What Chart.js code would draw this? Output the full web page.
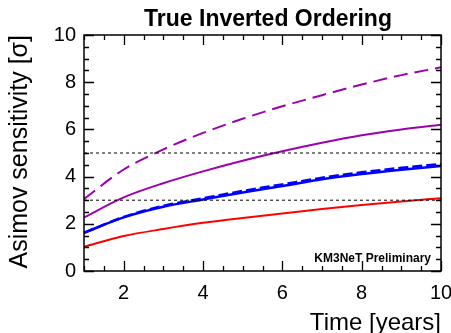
<!DOCTYPE html>
<html lang="en">
<head>
    <meta charset="UTF-8">
    <title>True Inverted Ordering</title>
    <script src="https://cdn.jsdelivr.net/npm/chart.js"></script>
    <style>
        html, body { margin: 0; padding: 0; background: #fff; }
        #wrap { width: 451px; height: 333px; }
    </style>
</head>
<body>
    <div id="wrap"><canvas id="sens"></canvas></div>

    <script>
        // years of data taking
        const years = [1, 2, 3, 4, 5, 6, 7, 8, 9, 10];

        // sensitivity curves (sigma)
        const purpleDashed = [3.05, 4.30, 5.15, 5.85, 6.45, 6.98, 7.45, 7.90, 8.30, 8.63];
        const purpleSolid  = [2.27, 3.12, 3.72, 4.22, 4.67, 5.07, 5.43, 5.75, 6.00, 6.20];
        const blueDashed   = [1.62, 2.29, 2.76, 3.08, 3.39, 3.67, 3.95, 4.18, 4.37, 4.53];
        const blueSolid    = [1.62, 2.27, 2.72, 3.03, 3.33, 3.60, 3.89, 4.11, 4.29, 4.45];
        const redSolid     = [1.03, 1.48, 1.78, 2.04, 2.25, 2.44, 2.63, 2.80, 2.95, 3.08];

        // 3 and 5 sigma reference levels
        const sigmaLevels = [3, 5];

        const xTicks = [2, 4, 6, 8, 10];
        const yTicks = [0, 2, 4, 6, 8, 10];

        const FONT = 'Liberation Sans, Arial, Helvetica, sans-serif';
        const PURPLE = '#9c00b0';

        function pts(vals) {
            return years.map((x, i) => ({ x: x, y: vals[i] }));
        }

        function curve(vals, color, dash, width) {
            return {
                data: pts(vals),
                borderColor: color,
                borderWidth: width,
                borderDash: dash,
                pointRadius: 0,
                fill: false,
                cubicInterpolationMode: 'monotone'
            };
        }

        const levelSets = sigmaLevels.map(lv => ({
            data: [{ x: years[0], y: lv }, { x: years[years.length - 1], y: lv }],
            borderColor: '#000',
            borderWidth: 1,
            borderDash: [3, 3],
            pointRadius: 0,
            fill: false
        }));

        // ROOT-like frame, inward major/minor ticks, titles
        const decor = {
            id: 'decor',
            afterDraw(chart) {
                const ctx = chart.ctx;
                const a = chart.chartArea;
                const xs = chart.scales.x, ys = chart.scales.y;
                ctx.save();
                ctx.strokeStyle = '#000';
                ctx.setLineDash([]);
                ctx.lineWidth = 1.5;
                ctx.strokeRect(a.left, a.top, a.right - a.left, a.bottom - a.top);

                ctx.lineWidth = 1.3;
                ctx.beginPath();
                for (let k = 2; k <= 20; k++) {
                    const v = k / 2;
                    const px = Math.round(xs.getPixelForValue(v)) + 0.5;
                    const len = (k % 4 === 0) ? 10 : 5;
                    ctx.moveTo(px, a.bottom); ctx.lineTo(px, a.bottom - len);
                    ctx.moveTo(px, a.top); ctx.lineTo(px, a.top + len);
                }
                for (let k = 0; k <= 20; k++) {
                    const v = k / 2;
                    const py = Math.round(ys.getPixelForValue(v)) + 0.5;
                    const len = (k % 4 === 0) ? 10 : 5;
                    ctx.moveTo(a.left, py); ctx.lineTo(a.left + len, py);
                    ctx.moveTo(a.right, py); ctx.lineTo(a.right - len, py);
                }
                ctx.stroke();

                ctx.fillStyle = '#000';
                ctx.font = 'bold 23px ' + FONT;
                ctx.textAlign = 'center';
                ctx.textBaseline = 'alphabetic';
                ctx.fillText('True Inverted Ordering', 268, 26);

                ctx.font = 'bold 12px ' + FONT;
                ctx.textAlign = 'right';
                ctx.fillText('KM3NeT Preliminary', 431, 262);

                ctx.font = '24px ' + FONT;
                ctx.textAlign = 'right';
                ctx.fillText('Time [years]', a.right, 330);

                ctx.font = '25px ' + FONT;
                ctx.translate(27, a.top);
                ctx.rotate(-Math.PI / 2);
                ctx.textAlign = 'right';
                ctx.fillText('Asimov sensitivity [\u03c3]', 0, 0);
                ctx.restore();
            }
        };

        new Chart(document.getElementById('sens'), {
            type: 'line',
            data: {
                datasets: [
                    ...levelSets,
                    curve(redSolid, '#ff0000', [], 2),
                    curve(blueSolid, '#0000ff', [], 2.5),
                    curve(blueDashed, '#0000ff', [10, 4], 2.5),
                    curve(purpleSolid, PURPLE, [], 2),
                    curve(purpleDashed, PURPLE, [14, 7], 2)
                ]
            },
            options: {
                responsive: true,
                maintainAspectRatio: false,
                animation: false,
                layout: { padding: { top: 35, right: 10, left: 0, bottom: 0 } },
                plugins: {
                    legend: { display: false },
                    tooltip: { enabled: false },
                    title: { display: false }
                },
                scales: {
                    x: {
                        type: 'linear',
                        min: 1,
                        max: 10,
                        afterBuildTicks: s => { s.ticks = xTicks.map(v => ({ value: v })); },
                        afterFit: s => { s.height = 62; s.paddingLeft = 0; s.paddingRight = 0; },
                        grid: { display: false, drawTicks: false },
                        border: { display: false },
                        ticks: {
                            padding: 10,
                            color: '#000',
                            maxRotation: 0,
                            font: { family: FONT, size: 20 }
                        }
                    },
                    y: {
                        min: 0,
                        max: 10,
                        afterBuildTicks: s => { s.ticks = yTicks.map(v => ({ value: v })); },
                        afterFit: s => { s.width = 84; s.paddingTop = 0; s.paddingBottom = 0; },
                        grid: { display: false, drawTicks: false },
                        border: { display: false },
                        ticks: {
                            padding: 8,
                            color: '#000',
                            font: { family: FONT, size: 20 }
                        }
                    }
                }
            },
            plugins: [decor]
        });
    </script>
</body>
</html>
